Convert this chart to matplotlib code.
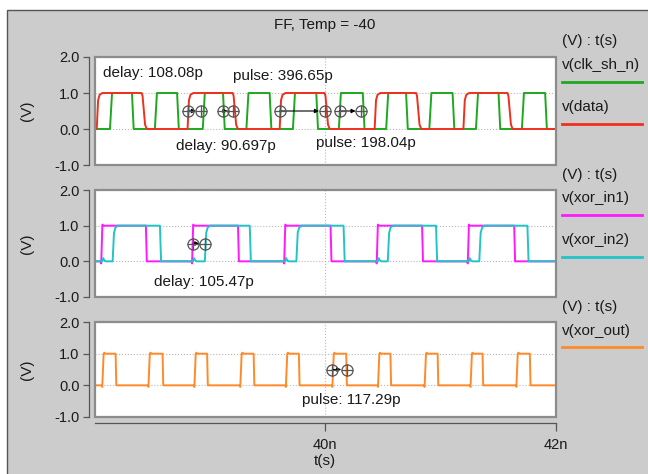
import matplotlib
matplotlib.use('Agg')
import matplotlib.pyplot as plt
from matplotlib.patches import Rectangle
from matplotlib.lines import Line2D

plt.rcParams['font.family'] = ['Liberation Sans', 'DejaVu Sans']

# time window (ns)
T0, T1 = 38.0, 42.0

# edge times (ns)
clk_rise = [38.130, 38.520, 38.936, 39.315, 39.719, 40.118, 40.529, 40.904, 41.309, 41.708]
clk_fall = [38.321, 38.713, 39.112, 39.517, 39.922, 40.326, 40.702, 41.106, 41.505, 41.910]
data_rise = [38.015, 38.804, 39.604, 40.429, 41.200]
data_fall = [38.405, 39.196, 39.994, 40.789, 41.583]
in1_rise = [38.058, 38.847, 39.647, 40.451, 41.242]
in1_fall = [38.442, 39.242, 40.046, 40.841, 41.641]
in2_rise = [38.153, 38.954, 39.749, 40.543, 41.338]
in2_fall = [38.564, 39.344, 40.159, 40.962, 41.756]
out_rise = [38.067, 38.468, 38.867, 39.266, 39.662, 40.066, 40.462, 40.867, 41.266, 41.664]
out_fall = [38.179, 38.587, 38.974, 39.378, 39.771, 40.182, 40.566, 40.976, 41.366, 41.777]

# measurement cursors (t1, t2) and labels
p1_marks = [(38.809, 38.925), (39.110, 39.200), (39.604, 39.994), (40.124, 40.312)]
p1_labels = [('delay: 108.08p', 38.067, 1.56), ('pulse: 396.65p', 39.199, 1.47),
             ('delay: 90.697p', 38.700, -0.46), ('pulse: 198.04p', 39.916, -0.38)]
p2_marks = [(38.852, 38.954)]
p2_labels = [('delay: 105.47p', 38.511, -0.57)]
p3_marks = [(40.061, 40.187)]
p3_labels = [('pulse: 117.29p', 39.800, -0.46)]

# edge shapes (offset ns, level)
RED_UP = [(0, 0), (0.012, 0.8), (0.025, 0.95), (0.05, 1)]
RED_DN = [(0, 1), (0.008, 0.92), (0.03, 0.12), (0.045, 0)]
GRN_UP = [(0, 0), (0.018, 1)]
GRN_DN = [(0, 1), (0.015, 0)]
MAG_UP = [(-0.01, 0), (-0.004, -0.06), (0.006, 1.03), (0.015, 1)]
MAG_DN = [(0, 1), (0.008, 0)]
CYN_UP = [(0, 0), (0.012, 0.8), (0.025, 0.95), (0.045, 1)]
CYN_DN = [(0, 1), (0.01, 0)]
CYN_BUMP = [(0.005, 0), (0.013, 0.09), (0.025, 0.02), (0.035, 0)]
ORG_UP = [(-0.01, 0), (-0.004, -0.05), (0.008, 1.0), (0.014, 1.03), (0.022, 1.0)]
ORG_DN = [(0, 1), (0.006, 0)]


def trace(ups, dns, up, dn, extra=()):
    ev = [(t, up) for t in ups] + [(t, dn) for t in dns] + list(extra)
    ev.sort(key=lambda e: e[0])
    xs, ys = [T0], [0]
    for t, shape in ev:
        for dt, v in shape:
            xs.append(t + dt)
            ys.append(v)
    xs.append(T1)
    ys.append(ys[-1])
    return xs, ys


W, H = 648, 474
fig = plt.figure(figsize=(W / 100, H / 100), dpi=100)
fig.patch.set_facecolor('white')
fig.add_artist(Rectangle((7 / W, -0.05), 1.1, 1.05 - 9.5 / H, transform=fig.transFigure,
                         facecolor='#cccccc', edgecolor='#555555', lw=1.0, zorder=-10))

TXT = '#1a1a1a'


def fx(x):
    return x / W


def fy(y):
    return 1 - y / H


fig.text(fx(325), fy(25), 'FF, Temp = -40', ha='center', va='center', fontsize=11, color=TXT)

panels = [(57, 165), (190, 297), (322, 417)]
axes = []
for i, (top, bot) in enumerate(panels):
    ax = fig.add_axes([fx(95), fy(bot), fx(555.5) - fx(95), fy(top) - fy(bot)])
    ax.set_xlim(T0, T1)
    ax.set_ylim(-1, 2)
    ax.set_facecolor('white')
    for s in ['top', 'right', 'bottom']:
        ax.spines[s].set_visible(False)
    ax.spines['left'].set_position(('outward', 4))
    ax.spines['left'].set_color('#555555')
    ax.spines['left'].set_linewidth(0.9)
    ax.add_patch(Rectangle((0, 0), 1, 1, transform=ax.transAxes, fill=False,
                           ec='#8c8c8c', lw=1.6, clip_on=False, zorder=5))
    ax.set_yticks([-1, 0, 1, 2])
    ax.set_yticklabels(['-1.0', '0.0', '1.0', '2.0'])
    ax.tick_params(axis='y', length=4, width=0.9, color='#555555', labelsize=10.5,
                   labelcolor=TXT, pad=3)
    ax.set_xticks([40, 42])
    ax.grid(True, ls=':', color='#b8b8b8', lw=0.8)
    ax.set_ylabel('(V)', fontsize=11, color=TXT, va='center')
    ax.yaxis.set_label_coords(-0.1477, 0.5)
    if i < 2:
        ax.tick_params(axis='x', length=0, labelbottom=False)
    else:
        ax.spines['bottom'].set_visible(True)
        ax.spines['bottom'].set_position(('outward', 4))
        ax.spines['bottom'].set_color('#555555')
        ax.spines['bottom'].set_linewidth(0.9)
        ax.set_xticklabels(['40n', '42n'])
        ax.tick_params(axis='x', length=6, width=0.9, color='#555555', labelsize=10.5,
                       labelcolor=TXT, pad=5)
        ax.set_xlabel('t(s)', fontsize=11, color=TXT, va='center')
        ax.xaxis.set_label_coords(0.5, -44 / 95.0)
    axes.append(ax)

GREEN, RED = '#1fa81f', '#f0301c'
MAGENTA, CYAN = '#ff19ff', '#22c4c8'
ORANGE = '#ff8a2a'
LW = 1.4

ax1, ax2, ax3 = axes
ax1.plot(*trace(clk_rise, clk_fall, GRN_UP, GRN_DN), color=GREEN, lw=LW, zorder=2)
ax1.plot(*trace(data_rise, data_fall, RED_UP, RED_DN), color=RED, lw=LW, zorder=3)
bumps = [(t, CYN_BUMP) for t in in1_rise]
ax2.plot(*trace(in1_rise, in1_fall, MAG_UP, MAG_DN), color=MAGENTA, lw=LW, zorder=2)
ax2.plot(*trace(in2_rise, in2_fall, CYN_UP, CYN_DN, bumps), color=CYAN, lw=LW, zorder=3)
ax3.plot(*trace(out_rise, out_fall, ORG_UP, ORG_DN), color=ORANGE, lw=LW, zorder=3)

for ax, marks, labels in [(ax1, p1_marks, p1_labels), (ax2, p2_marks, p2_labels),
                          (ax3, p3_marks, p3_labels)]:
    for t1, t2 in marks:
        ax.annotate('', xy=(t2, 0.5), xytext=(t1, 0.5),
                    arrowprops=dict(arrowstyle='-|>', lw=0.8, color='k', shrinkA=0,
                                    shrinkB=4, mutation_scale=6), zorder=6)
        for m in ['o', '+']:
            ax.plot([t1, t2], [0.5, 0.5], ls='none', marker=m, ms=8, mfc='none',
                    mec='#555555', mew=0.9, zorder=7)
    for s, t, v in labels:
        ax.text(t, v, s, fontsize=11, color=TXT, ha='left', va='center', zorder=8)

# legends on the right
legends = [(57, [('v(clk_sh_n)', GREEN), ('v(data)', RED)]),
           (190, [('v(xor_in1)', MAGENTA), ('v(xor_in2)', CYAN)]),
           (322, [('v(xor_out)', ORANGE)])]
for top, items in legends:
    fig.text(fx(562), fy(top - 15.5), '(V) : t(s)', ha='left', va='center', fontsize=11, color=TXT)
    for k, (name, col) in enumerate(items):
        yl = top + 8.5 + 41.5 * k
        fig.text(fx(562), fy(yl), name, ha='left', va='center', fontsize=11, color=TXT)
        fig.add_artist(Line2D([fx(562), fx(642)], [fy(yl + 16.5)] * 2, color=col, lw=2,
                              transform=fig.transFigure))

fig.savefig('out.png', dpi=100)
